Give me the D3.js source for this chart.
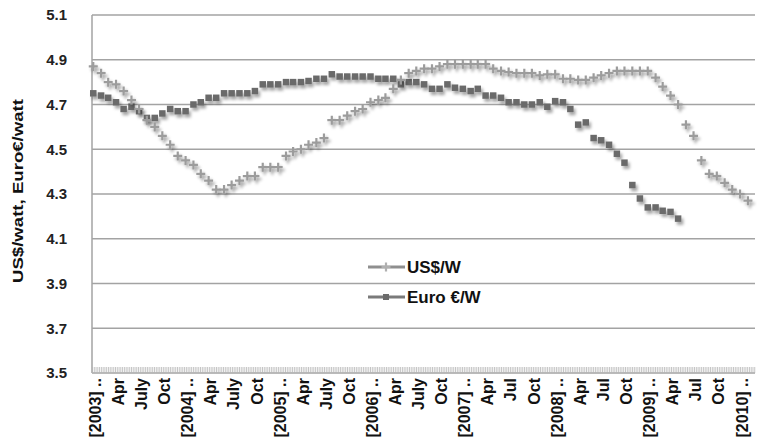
<!DOCTYPE html>
<html>
<head>
<meta charset="utf-8">
<script src="https://cdn.jsdelivr.net/npm/d3@7"></script>
<style>
  body { margin: 0; background: #fff; }
  text { font-family: "Liberation Sans", Arial, sans-serif; }
</style>
</head>
<body>
<div id="chart"></div>
<script>
// monthly values, first month = Jan 2003
const usdPerWatt = [4.87,4.84,4.80,4.79,4.76,4.72,4.68,4.63,4.60,4.56,4.52,4.47,
  4.45,4.43,4.39,4.36,4.32,4.32,4.34,4.36,4.38,4.38,4.42,4.42,
  4.42,4.47,4.49,4.50,4.52,4.53,4.55,4.63,4.63,4.65,4.67,4.68,
  4.71,4.72,4.73,4.77,4.81,4.84,4.85,4.86,4.86,4.87,4.88,4.88,
  4.88,4.88,4.88,4.88,4.86,4.85,4.845,4.84,4.84,4.84,4.83,4.835,
  4.835,4.815,4.815,4.81,4.81,4.82,4.83,4.84,4.85,4.85,4.85,4.85,
  4.85,4.82,4.78,4.74,4.70,4.61,4.56,4.45,4.39,4.38,4.35,4.32,
  4.30,4.27];
const euroPerWatt = [4.75,4.74,4.73,4.71,4.68,4.69,4.67,4.64,4.64,4.66,4.68,4.67,
  4.67,4.70,4.71,4.73,4.73,4.75,4.75,4.75,4.75,4.76,4.79,4.79,
  4.79,4.80,4.80,4.80,4.805,4.815,4.815,4.835,4.825,4.825,4.825,4.825,
  4.825,4.815,4.815,4.815,4.79,4.80,4.80,4.79,4.77,4.77,4.79,4.775,
  4.77,4.76,4.77,4.74,4.74,4.73,4.71,4.71,4.70,4.70,4.71,4.69,
  4.715,4.71,4.68,4.61,4.62,4.55,4.54,4.52,4.48,4.44,4.34,4.28,
  4.24,4.24,4.225,4.22,4.19];
const yTicks = [3.5,3.7,3.9,4.1,4.3,4.5,4.7,4.9,5.1];
const xLabels = ["[2003] ..","Apr","July","Oct","[2004] ..","Apr","July","Oct",
  "[2005] ..","Apr","July","Oct","[2006] ..","Apr","July","Oct",
  "[2007] ..","Apr","Jul","Oct","[2008] ..","Apr","Jul","Oct",
  "[2009] ..","Apr","Jul","Oct","[2010] .."];
const seriesNames = ["US$/W","Euro €/W"];

//-----------------------------SVG------------------------------//
const W = 757, H = 442;
const plotL = 92, plotR = 755, plotT = 15, plotB = 373;

const svg = d3.select("#chart").append("svg")
    .attr("width", W)
    .attr("height", H);

const defs = svg.append("defs");
const shadow = defs.append("filter")
    .attr("id", "shadow")
    .attr("x", "-50%").attr("y", "-50%")
    .attr("width", "200%").attr("height", "200%");
shadow.append("feDropShadow")
    .attr("dx", 2).attr("dy", 3)
    .attr("stdDeviation", 1.6)
    .attr("flood-color", "#000")
    .attr("flood-opacity", 0.35);

//----------------------------SCALES----------------------------//
const month = i => d3.timeMonth.offset(new Date(2003, 0, 1), i);
const xScale = d3.scaleTime()
    .domain([new Date(2002, 11, 27), new Date(2010, 2, 1)])
    .range([plotL, plotR]);
const yScale = d3.scaleLinear()
    .domain([3.5, 5.1])
    .range([plotB, plotT]);

//-----------------------------GRID-----------------------------//
svg.append("g")
    .selectAll("line")
    .data(yTicks)
    .enter().append("line")
    .attr("x1", plotL).attr("x2", plotR)
    .attr("y1", d => yScale(d)).attr("y2", d => yScale(d))
    .attr("stroke", "#a3a3a3")
    .attr("stroke-width", 1.5);

svg.append("line")
    .attr("x1", plotL).attr("x2", plotL)
    .attr("y1", plotT).attr("y2", plotB)
    .attr("stroke", "#a3a3a3")
    .attr("stroke-width", 1.5);

//-----------------------------AXES-----------------------------//
const yaxis = d3.axisLeft(yScale)
    .tickValues(yTicks)
    .tickSize(0)
    .tickPadding(25)
    .tickFormat(d3.format(".1f"));
svg.append("g")
    .attr("transform", "translate(" + plotL + ",0)")
    .call(yaxis)
    .call(g => g.select(".domain").remove())
    .selectAll("text")
        .attr("font-size", "15px")
        .attr("font-weight", "bold")
        .attr("fill", "#222");

// weekly category ticks
const weeks = xScale.ticks(d3.timeWeek.every(1));
svg.append("g")
    .selectAll("line")
    .data(weeks)
    .enter().append("line")
    .attr("x1", d => xScale(d)).attr("x2", d => xScale(d))
    .attr("y1", plotB - 6).attr("y2", plotB)
    .attr("stroke", "#b5b5b5")
    .attr("stroke-width", 0.8);

const quarters = xLabels.map((t, i) => d3.timeMonth.offset(new Date(2003, 0, 1), i * 3));
svg.append("g")
    .selectAll("text")
    .data(xLabels)
    .enter().append("text")
    .attr("transform", (d, i) => "translate(" + (xScale(quarters[i]) + 2) + "," + (plotB + 5) + ") rotate(-90)")
    .attr("dy", "0.35em")
    .attr("text-anchor", "end")
    .attr("font-size", "16px")
    .attr("font-weight", "bold")
    .attr("fill", "#111")
    .text(d => d);

svg.append("text")
    .attr("transform", "translate(23,191) rotate(-90)")
    .attr("text-anchor", "middle")
    .attr("font-size", "14px")
    .attr("font-weight", "bold")
    .attr("fill", "#111")
    .attr("textLength", 184)
    .attr("lengthAdjust", "spacingAndGlyphs")
    .text("US$/watt, Euro€/watt");

//----------------------------MARKERS---------------------------//
const usdColor = "#9c9c9c", eurColor = "#6b6b6b";

const plus = (g, color) => g.append("path")
    .attr("d", "M-4.5,0H4.5M0,-4.5V4.5")
    .attr("stroke", color)
    .attr("stroke-width", 2.2)
    .attr("fill", "none");

svg.append("g")
    .attr("filter", "url(#shadow)")
    .selectAll("rect")
    .data(euroPerWatt)
    .enter().append("rect")
    .attr("x", (d, i) => xScale(month(i)) - 3.25)
    .attr("y", d => yScale(d) - 3.25)
    .attr("width", 6.5).attr("height", 6.5)
    .attr("fill", eurColor);

svg.append("g")
    .attr("filter", "url(#shadow)")
    .selectAll("g")
    .data(usdPerWatt)
    .enter().append("g")
    .attr("transform", (d, i) => "translate(" + xScale(month(i)) + "," + yScale(d) + ")")
    .each(function() { plus(d3.select(this), usdColor); });

//----------------------------LEGEND----------------------------//
const legend = svg.append("g");
[0, 1].forEach(i => {
    const ly = 267 + i * 30;
    legend.append("line")
        .attr("x1", 368).attr("x2", 405)
        .attr("y1", ly).attr("y2", ly)
        .attr("stroke", i === 0 ? "#8f8f8f" : "#7a7a7a")
        .attr("stroke-width", 3);
    if (i === 0) {
        plus(legend.append("g").attr("transform", "translate(386," + ly + ")"), "#b0b0b0");
    } else {
        legend.append("rect")
            .attr("x", 383).attr("y", ly - 3)
            .attr("width", 6).attr("height", 6)
            .attr("fill", eurColor);
    }
    legend.append("text")
        .attr("x", 407).attr("y", ly)
        .attr("dy", "0.35em")
        .attr("font-size", "17px")
        .attr("font-weight", "bold")
        .attr("fill", "#111")
        .text(seriesNames[i]);
});
</script>
</body>
</html>
